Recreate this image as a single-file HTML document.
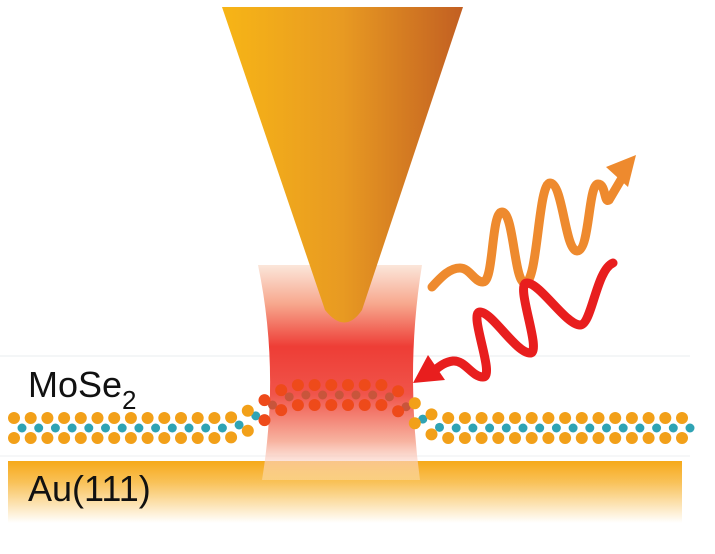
<!DOCTYPE html>
<html><head><meta charset="utf-8"><style>
html,body{margin:0;padding:0;background:#fff;width:715px;height:554px;overflow:hidden}
text{font-family:"Liberation Sans",sans-serif}
</style></head><body>
<svg id="s" width="715" height="554" viewBox="0 0 715 554" xmlns="http://www.w3.org/2000/svg">
<defs>
<linearGradient id="tip" x1="0" x2="1" y1="0" y2="0">
<stop offset="0" stop-color="#f7b516"/><stop offset="0.5" stop-color="#e89a22"/><stop offset="1" stop-color="#c25f22"/></linearGradient>
<linearGradient id="au" x1="0" x2="0" y1="0" y2="1">
<stop offset="0" stop-color="#f6a91a"/><stop offset="0.35" stop-color="#f9c25a"/><stop offset="1" stop-color="#ffffff"/></linearGradient>
<linearGradient id="beam" x1="0" x2="0" y1="0" y2="1">
<stop offset="0" stop-color="#fbe6da"/><stop offset="0.18" stop-color="#f7a88e"/><stop offset="0.38" stop-color="#ee3d36"/><stop offset="0.6" stop-color="#f0544a"/><stop offset="0.82" stop-color="#f7b3a0"/><stop offset="1" stop-color="#fff4ee" stop-opacity="0.3"/></linearGradient>
</defs>
<line x1="0" y1="356" x2="690" y2="356" stroke="#e8ecef" stroke-width="1"/>
<line x1="0" y1="456" x2="690" y2="456" stroke="#eceff1" stroke-width="1"/>
<rect x="8" y="461" width="674" height="62" fill="url(#au)"/>
<path d="M258,265 L422,265 Q405,370 420,480 L262,480 Q280,370 258,265 Z" fill="url(#beam)"/>
<path d="M222,7 L463,7 L362,310 Q345,335 325,310 Z" fill="url(#tip)"/>
<g id="chain"></g>
<path d="M432,287 C442,276 450,268 460,268 C470,268 474,282 483,282 C494,282 491,212 502,212 C514,212 514,283 525,283 C538,283 538,183 550,183 C563,183 565,251 577,251 C590,251 588,184 598,184 C606,184 604,204 609,200 L622,178" fill="none" stroke="#ee8a2e" stroke-width="9" stroke-linecap="round"/>
<polygon points="636,155 606,167 628,187" fill="#ee8a2e"/>
<path d="M613,263 C596,270 592,325 580,325 C566,325 540,283 527,283 C514,283 543,353 530,353 C516,353 492,312 480,312 C468,312 496,377 483,377 C472,377 465,360 453,361 C445,362 440,366 435,370" fill="none" stroke="#e81e1e" stroke-width="9" stroke-linecap="round"/>
<polygon points="413,383 428,355 445,380" fill="#e81e1e"/>
<text x="28" y="397" font-size="36" fill="#111">MoSe<tspan font-size="26" dy="12">2</tspan></text>
<text x="28" y="501" font-size="36" fill="#111">Au(111)</text>
</svg>
<script>
var g=document.getElementById('chain'),ns="http://www.w3.org/2000/svg";
function f(x){function s(a,b,t){t=Math.min(1,Math.max(0,(t-a)/(b-a)));return t*t*(3-2*t);}
return 428-33*s(225,300,x)+33*s(380,445,x);}
function c(x,y,r,col){var e=document.createElementNS(ns,'circle');e.setAttribute('cx',x);e.setAttribute('cy',y);e.setAttribute('r',r);e.setAttribute('fill',col);g.appendChild(e);}
for(var x=14;x<695;x+=16.7){var y=f(x+8),red=(x>262&&x<412);
c(x+8,y,4.5,red?'#c8553b':'#2fa3b4');}
for(var x=14;x<695;x+=16.7){var y=f(x),red=(x>262&&x<412);var col=red?'#ee4a1a':'#f2a019';
c(x,y-10,6,col);c(x,y+10,6,col);}
</script>
</body></html>
